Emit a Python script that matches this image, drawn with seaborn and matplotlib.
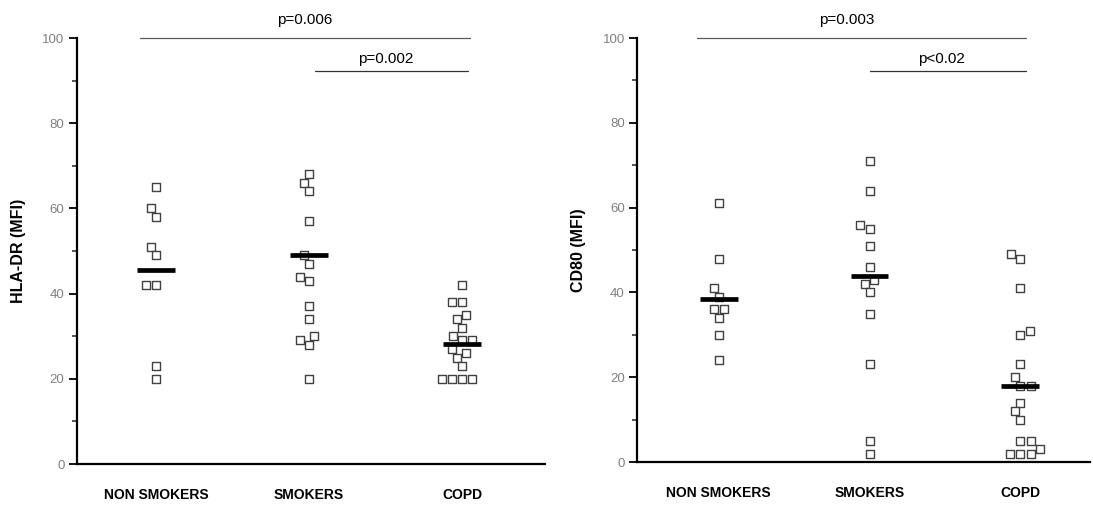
import numpy as np
import pandas as pd
import matplotlib
matplotlib.use('Agg')
import matplotlib.pyplot as plt
from matplotlib.ticker import MultipleLocator
import seaborn as sns

groups = ['NON SMOKERS', 'SMOKERS', 'COPD']

# HLA-DR (MFI)
hla_non = [65, 60, 58, 51, 49, 42, 42, 23, 20]
hla_smk = [68, 66, 64, 57, 49, 47, 44, 43, 37, 34, 30, 29, 28, 20]
hla_copd = [42, 38, 38, 35, 34, 32, 30, 29, 29, 27, 26, 25, 23, 20, 20, 20, 20]
hla_bars = [45.5, 49, 28.2]
hla_p = ['p=0.006', 'p=0.002']

# CD80 (MFI)
cd80_non = [61, 48, 41, 39, 36, 36, 34, 30, 24]
cd80_smk = [71, 64, 56, 55, 51, 46, 43, 42, 40, 35, 23, 5, 2]
cd80_copd = [49, 48, 41, 31, 30, 23, 20, 18, 18, 14, 12, 10, 5, 5, 3, 2, 2, 2]
cd80_bars = [38.4, 43.8, 18.0]
cd80_p = ['p=0.003', 'p<0.02']


def _long(non, smk, copd):
    rows = []
    for g, vals in zip(groups, [non, smk, copd]):
        rows += [(g, v) for v in vals]
    return pd.DataFrame(rows, columns=['group', 'value'])


sns.set_style('ticks')
plt.rcParams['font.family'] = ['Liberation Sans', 'DejaVu Sans']
plt.rcParams['text.color'] = 'black'

fig = plt.figure(figsize=(10.93, 5.09), dpi=100)
ax1 = fig.add_axes([0.0704, 0.0884, 0.428, 0.8369])
ax2 = fig.add_axes([0.583, 0.0923, 0.414, 0.833])

panels = [
    (ax1, _long(hla_non, hla_smk, hla_copd), hla_bars, 'HLA-DR (MFI)',
     hla_p, (-0.516, 2.54), [(-0.105, 2.05), (1.04, 2.04)], [0.97, 1.50]),
    (ax2, _long(cd80_non, cd80_smk, cd80_copd), cd80_bars, 'CD80 (MFI)',
     cd80_p, (-0.54, 2.46), [(-0.146, 2.04), (1.0, 2.04)], [0.85, 1.48]),
]

for ax, df, bars, ylab, ptxt, xlim, plines, ptx in panels:
    sns.swarmplot(data=df, x='group', y='value', order=groups, ax=ax,
                  marker='s', color='white', edgecolor='0.25', linewidth=1.0,
                  size=6, zorder=3)
    pos = np.arange(len(groups))
    ax.hlines(bars, pos - 0.125, pos + 0.125, color='black', lw=3.4, zorder=4)

    ax.set_ylim(0, 100)
    ax.set_xlim(*xlim)
    ax.yaxis.set_major_locator(MultipleLocator(20))
    ax.yaxis.set_minor_locator(MultipleLocator(10))
    ax.tick_params(axis='y', which='major', length=6, width=1.3,
                   labelsize=9.5, labelcolor='0.5', color='black', pad=3)
    ax.tick_params(axis='y', which='minor', length=3.5, width=1.1)
    ax.tick_params(axis='x', length=0, pad=17, labelsize=10,
                   labelcolor='black')
    for lbl in ax.get_xticklabels():
        lbl.set_fontweight('bold')
    ax.set_xlabel('')
    ax.set_ylabel(ylab, fontsize=11.5, fontweight='bold', labelpad=12,
                  color='black')

    sns.despine(ax=ax)
    for s in ['left', 'bottom']:
        ax.spines[s].set_linewidth(1.6)
        ax.spines[s].set_color('black')

    # significance brackets
    (a0, a1), (b0, b1) = plines
    ax.plot([a0, a1], [100, 100], color='0.35', lw=0.9, clip_on=False)
    ax.plot([b0, b1], [92.3, 92.3], color='0.2', lw=0.9, clip_on=False)
    ax.text(ptx[0], 102.5, ptxt[0], ha='center', va='bottom', fontsize=11)
    ax.text(ptx[1], 93.5, ptxt[1], ha='center', va='bottom', fontsize=11)

fig.savefig('out.png', dpi=100)
